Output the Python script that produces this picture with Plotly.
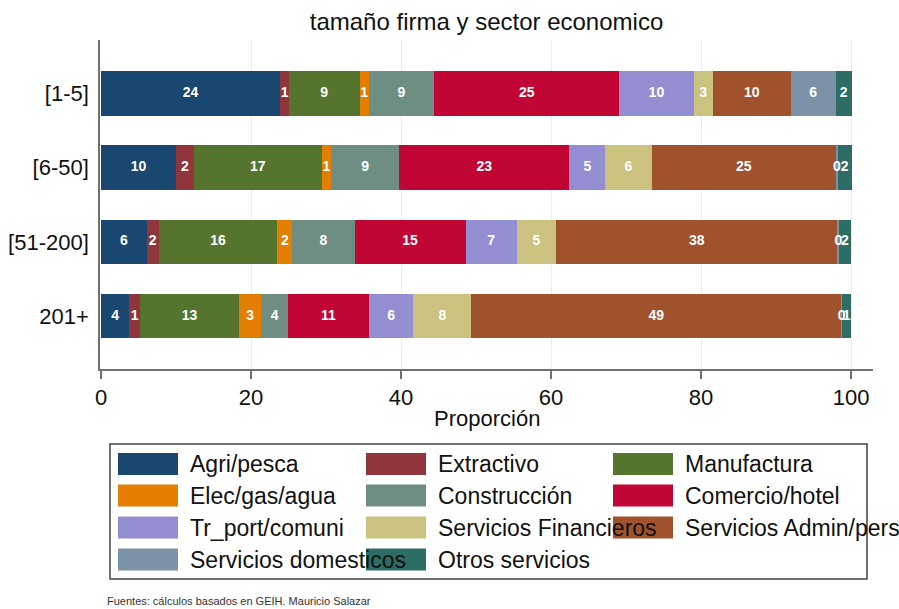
import plotly.graph_objects as go

# ---- data ----
firm_sizes = ["[1-5]", "[6-50]", "[51-200]", "201+"]
sectors = ["Agri/pesca", "Extractivo", "Manufactura", "Elec/gas/agua", "Construcción",
           "Comercio/hotel", "Tr_port/comuni", "Servicios Financieros",
           "Servicios Admin/pers", "Servicios domesticos", "Otros servicios"]
agri = [23.9, 10.0, 6.09, 3.78]
extractivo = [1.16, 2.36, 1.6, 1.42]
manufactura = [9.41, 17.1, 15.8, 13.2]
elec = [1.2, 1.2, 2.04, 2.98]
construccion = [8.76, 9.1, 8.27, 3.52]
comercio = [24.67, 22.7, 14.8, 10.85]
transporte = [9.9, 4.77, 6.84, 5.9]
financieros = [2.59, 6.18, 5.2, 7.73]
admin = [10.35, 24.6, 37.6, 49.33]
domesticos = [6.0, 0.2, 0.15, 0.1]
otros = [2.13, 1.9, 1.6, 1.2]
series = [agri, extractivo, manufactura, elec, construccion, comercio,
          transporte, financieros, admin, domesticos, otros]
x_ticks = [0, 20, 40, 60, 80, 100]

colors = ["#1a476f", "#90353b", "#55752f", "#e37e00", "#6e8e84", "#c10534",
          "#938dd2", "#cac27e", "#a0522d", "#7b92a8", "#2d6d66"]

FONT = "Liberation Sans, Arial, sans-serif"
W, H = 899, 609
ML, MR, MT, MB = 100, 26, 40, 240
PW, PH = W - ML - MR, H - MT - MB


def px2x(px):
    return (px - ML) / PW


def px2y(py):
    return (H - MB - py) / PH


fig = go.Figure()
for name, vals, col in zip(sectors, series, colors):
    fig.add_trace(go.Bar(
        y=firm_sizes, x=vals, name=name, orientation="h",
        marker=dict(color=col, line=dict(width=0)),
        width=0.6, showlegend=False,
    ))

# value labels drawn on top of all bars (centred in each segment)
lab_x, lab_y, lab_t = [], [], []
for i, size in enumerate(firm_sizes):
    cum = 0.0
    for vals in series:
        v = vals[i]
        lab_x.append(cum + v / 2)
        lab_y.append(size)
        lab_t.append("<b>%d</b>" % int(round(v)))
        cum += v
fig.add_trace(go.Scatter(
    x=lab_x, y=lab_y, text=lab_t, mode="text", textposition="middle center",
    textfont=dict(color="white", size=14, family=FONT),
    showlegend=False, hoverinfo="skip", cliponaxis=False,
))

# ---- manual legend (Stata style, large swatches) ----
shapes = []
annotations = []
shapes.append(dict(type="rect", xref="paper", yref="paper",
                   x0=px2x(110), x1=px2x(867), y0=px2y(579), y1=px2y(444),
                   line=dict(color="#404040", width=1.5), fillcolor="white", layer="below"))
col_x = [118, 366, 613]
row_y = [464, 495.5, 527.5, 559.5]
for i, (name, col) in enumerate(zip(sectors, colors)):
    r, c = divmod(i, 3)
    sx, sy = col_x[c], row_y[r]
    shapes.append(dict(type="rect", xref="paper", yref="paper",
                       x0=px2x(sx), x1=px2x(sx + 60), y0=px2y(sy + 11), y1=px2y(sy - 11),
                       line=dict(width=0), fillcolor=col, layer="above"))
    annotations.append(dict(xref="paper", yref="paper", x=px2x(sx + 70), y=px2y(sy),
                            xanchor="left", yanchor="middle", showarrow=False,
                            text=name, font=dict(size=23, color="#111111", family=FONT)))

# x-axis title
annotations.append(dict(xref="paper", yref="paper", x=0.5, y=px2y(418),
                        xanchor="center", yanchor="middle", showarrow=False,
                        text="Proporción", font=dict(size=22, color="#111111", family=FONT)))
# source note
annotations.append(dict(xref="paper", yref="paper", x=px2x(105), y=px2y(601),
                        xanchor="left", yanchor="middle", showarrow=False,
                        text="Fuentes: cálculos basados en GEIH. Mauricio Salazar",
                        font=dict(size=11, color="#333333", family=FONT)))

fig.update_layout(
    width=W, height=H,
    margin=dict(l=ML, r=MR, t=MT, b=MB, pad=0, autoexpand=False),
    barmode="stack",
    paper_bgcolor="white", plot_bgcolor="white",
    font=dict(family=FONT, color="#111111"),
    title=dict(text="tamaño firma y sector economico", x=0.5, xref="paper",
               y=1 - 22 / H, yref="container", xanchor="center", yanchor="middle",
               font=dict(size=24, color="#111111", family=FONT)),
    shapes=shapes,
    annotations=annotations,
)
fig.update_xaxes(
    range=[-0.133, 102.93], tickvals=x_ticks, ticktext=[str(v) for v in x_ticks],
    showgrid=True, gridcolor="#e6eef0", gridwidth=1, zeroline=False,
    showline=True, linecolor="#707070", linewidth=1.5,
    ticks="outside", ticklen=8, tickwidth=1.5, tickcolor="#707070",
    tickfont=dict(size=22, color="#111111"), automargin=False,
)
fig.update_yaxes(
    categoryorder="array", categoryarray=firm_sizes,
    range=[3.714, -0.721],
    showgrid=False, zeroline=False,
    showline=True, linecolor="#707070", linewidth=1.5,
    ticks="", ticklabelstandoff=5, automargin=False,
    tickfont=dict(size=22, color="#111111"),
)

fig.write_html("out.html",
               config={"displayModeBar": False},
               post_script="document.body.style.margin='0';"
                           "document.body.style.overflow='hidden';")
